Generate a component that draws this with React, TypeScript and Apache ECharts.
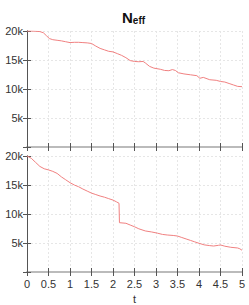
import React, { useEffect, useRef } from "react";
import * as echarts from "echarts";

const topT = [0, 0.1, 0.2, 0.3, 0.38, 0.45, 0.52, 0.6, 0.7, 0.8, 0.9, 1.0, 1.1, 1.2, 1.3, 1.4, 1.5, 1.6, 1.7, 1.8, 1.9, 2.0, 2.1, 2.2, 2.3, 2.4, 2.5, 2.6, 2.7, 2.75, 2.85, 2.95, 3.1, 3.2, 3.3, 3.38, 3.45, 3.52, 3.65, 3.8, 3.95, 4.02, 4.1, 4.25, 4.4, 4.5, 4.6, 4.7, 4.8, 4.9, 5.0];
const topN = [20000, 20000, 19950, 19900, 19700, 19200, 18700, 18500, 18400, 18300, 18150, 18000, 18050, 18050, 18000, 17950, 17850, 17400, 17000, 16750, 16500, 16400, 16100, 15800, 15400, 14900, 14750, 14700, 14750, 14500, 13900, 13600, 13400, 13200, 13150, 13350, 13200, 12800, 12600, 12450, 12300, 11850, 12000, 11600, 11500, 11300, 11200, 10950, 10700, 10450, 10400];

const botT = [0, 0.1, 0.2, 0.3, 0.4, 0.5, 0.6, 0.7, 0.8, 0.9, 1.0, 1.1, 1.2, 1.3, 1.4, 1.5, 1.6, 1.7, 1.8, 1.9, 2.0, 2.08, 2.14, 2.15, 2.3, 2.4, 2.5, 2.6, 2.75, 2.9, 3.03, 3.15, 3.26, 3.4, 3.5, 3.6, 3.7, 3.8, 3.9, 4.0, 4.12, 4.25, 4.34, 4.45, 4.5, 4.6, 4.74, 4.9, 4.95, 5.0];
const botN = [20000, 19600, 18900, 18200, 17800, 17600, 17350, 17000, 16400, 15900, 15400, 15000, 14700, 14300, 13950, 13600, 13350, 13100, 12900, 12650, 12400, 12100, 11850, 8500, 8400, 8100, 7800, 7450, 7080, 6900, 6700, 6480, 6380, 6300, 6200, 5950, 5700, 5450, 5200, 4950, 4680, 4550, 4480, 4600, 4660, 4450, 4260, 4140, 4000, 3750];

const xTicks = ["0", "0.5", "1", "1.5", "2", "2.5", "3", "3.5", "4", "4.5", "5"];
const yTickLabels = ["", "5k", "10k", "15k", "20k"];

const FONT = "Liberation Sans, Arial, sans-serif";
const DARK = "#555";
const LIGHT = "#bbb";
const GRIDC = "#e6e6e6";

function axesFor(gi: number, showXLabels: boolean) {
  const xBottom: any = {
    type: "value", gridIndex: gi, min: 0, max: 5, interval: 0.5, position: "bottom",
    axisLine: { show: true, lineStyle: { color: DARK, width: 1 } },
    axisTick: { show: true, inside: true, length: 4, lineStyle: { color: DARK } },
    splitLine: { show: true, lineStyle: { color: GRIDC, type: [2, 2], width: 1 } },
    axisLabel: {
      show: showXLabels, margin: 6, color: "#333", fontSize: 11, fontFamily: FONT,
      formatter: (v: number) => xTicks[Math.round(v * 2)] ?? "",
    },
  };
  if (showXLabels) {
    xBottom.name = "t";
    xBottom.nameLocation = "middle";
    xBottom.nameGap = 21;
    xBottom.nameTextStyle = { color: "#333", fontSize: 11, fontFamily: FONT };
  }
  const xTop: any = {
    type: "value", gridIndex: gi, min: 0, max: 5, interval: 0.5, position: "top",
    axisLine: { show: true, lineStyle: { color: LIGHT, width: 2 } },
    axisTick: { show: true, inside: true, length: 4, lineStyle: { color: DARK } },
    splitLine: { show: false }, axisLabel: { show: false },
  };
  const yLeft: any = {
    type: "value", gridIndex: gi, min: 0, max: 20000, interval: 5000, position: "left",
    axisLine: { show: true, lineStyle: { color: DARK, width: 1 } },
    axisTick: { show: true, inside: true, length: 4, lineStyle: { color: DARK } },
    splitLine: { show: true, lineStyle: { color: GRIDC, type: [2, 2], width: 1 } },
    axisLabel: {
      margin: 4, color: "#333", fontSize: 11, fontFamily: FONT,
      formatter: (v: number) => yTickLabels[Math.round(v / 5000)] ?? "",
    },
  };
  const yRight: any = {
    type: "value", gridIndex: gi, min: 0, max: 20000, interval: 5000, position: "right",
    axisLine: { show: true, lineStyle: { color: DARK, width: 1 } },
    axisTick: { show: true, inside: true, length: 4, lineStyle: { color: DARK } },
    splitLine: { show: false }, axisLabel: { show: false },
  };
  return { x: [xBottom, xTop], y: [yLeft, yRight] };
}

export default function App() {
  const ref = useRef<HTMLDivElement>(null);
  useEffect(() => {
    if (!ref.current) return;
    const chart = echarts.init(ref.current, undefined, { renderer: "svg" });
    const a0 = axesFor(0, false);
    const a1 = axesFor(1, true);
    const lineStyle = { color: "#f08080", width: 1 };
    chart.setOption({
      animation: false,
      backgroundColor: "#fff",
      title: {
        text: "{n|N}{s|eff}",
        left: 117,
        top: 2,
        textStyle: {
          rich: {
            n: { fontSize: 15, fontWeight: "bold", color: "#111", fontFamily: FONT, verticalAlign: "bottom" },
            s: { fontSize: 10, fontWeight: "bold", color: "#111", fontFamily: FONT, padding: [8, 0, 0, 0] },
          },
        },
      },
      grid: [
        { left: 27, top: 31, width: 215, height: 116 },
        { left: 27, top: 156, width: 215, height: 116 },
      ],
      xAxis: [...a0.x, ...a1.x],
      yAxis: [...a0.y, ...a1.y],
      series: [
        {
          type: "line", xAxisIndex: 0, yAxisIndex: 0, showSymbol: false, symbol: "none",
          lineStyle, data: topT.map((t, i) => [t, topN[i]]),
        },
        {
          type: "line", xAxisIndex: 2, yAxisIndex: 2, showSymbol: false, symbol: "none",
          lineStyle, data: botT.map((t, i) => [t, botN[i]]),
        },
      ],
    });
    return () => chart.dispose();
  }, []);
  return <div ref={ref} style={{ position: "absolute", left: 0, top: 0, width: 249, height: 305 }} />;
}
